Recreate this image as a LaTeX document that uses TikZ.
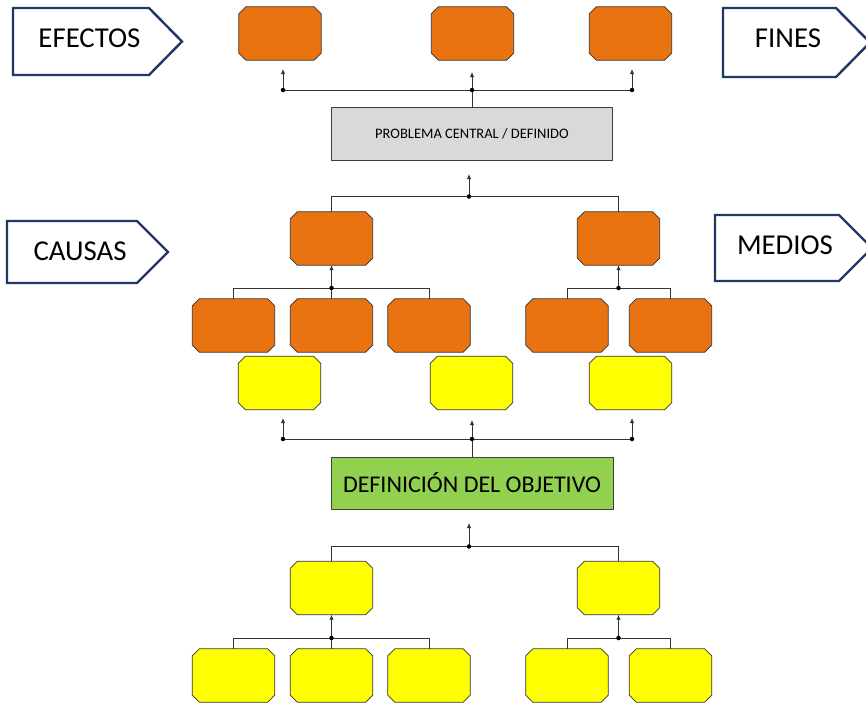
\documentclass[tikz,border=0pt]{standalone}
\usepackage{fontspec}
\setmainfont{Carlito}
\usetikzlibrary{arrows.meta}
\definecolor{orng}{HTML}{E97311}
\definecolor{yllw}{HTML}{FFFF00}
\definecolor{grn}{HTML}{92D050}
\definecolor{gry}{HTML}{D9D9D9}
\definecolor{navy}{HTML}{1F3864}
\tikzset{
  boxsz/.style={rectangle, inner sep=0pt, minimum width=82pt, minimum height=53pt},
  boxline/.style={draw=black!80, line width=0.8pt},
  wide/.style={rectangle, inner sep=0pt, draw=black!75, line width=0.9pt, minimum width=281pt, minimum height=53pt},
  conn/.style={draw=black!80, line width=0.9pt},
  arr/.style={conn, -{Latex[length=5pt,width=4.5pt]}},
  dot/.style={circle, fill=black, inner sep=0pt, minimum size=4.5pt},
  pent/.style={draw=navy, line width=2.4pt, fill=white, line join=miter},
  lbl/.style={inner sep=0pt, font=\fontsize{28.8}{32}\selectfont},
}
\newcommand\octb[4]{%
  \node[boxsz] (#1) at (#2,#3) {};
  \filldraw[boxline, fill=#4]
    ([xshift=7pt]#1.north west) -- ([xshift=-7pt]#1.north east)
    -- ([yshift=-7pt]#1.north east) -- ([yshift=7pt]#1.south east)
    -- ([xshift=-7pt]#1.south east) -- ([xshift=7pt]#1.south west)
    -- ([yshift=7pt]#1.south west) -- ([yshift=-7pt]#1.north west) -- cycle;
}
\begin{document}
\begin{tikzpicture}[x=1pt,y=-1pt]
\useasboundingbox (0,0) rectangle (866,702);
\fill[white] (0,0) rectangle (866,702);

% pentagon labels
\draw[pent] (13,8) -- (149,8) -- (182,41.5) -- (149,75) -- (13,75) -- cycle;
\node[lbl] (efectos) at (89.5,38.5) {EFECTOS};
\draw[pent] (723,8) -- (836,8) -- (870,42.5) -- (836,77) -- (723,77) -- cycle;
\node[lbl] (fines) at (788,38.5) {FINES};
\draw[pent] (7,221) -- (137,221) -- (168,252) -- (137,283) -- (7,283) -- cycle;
\node[lbl] (causas) at (80,251.5) {CAUSAS};
\draw[pent] (715,215) -- (839,215) -- (872,248) -- (839,281) -- (715,281) -- cycle;
\node[lbl] (medios) at (785,245) {MEDIOS};

% effects
\octb{E1}{280}{33.5}{orng}
\octb{E2}{472.5}{33.5}{orng}
\octb{E3}{630.5}{33.5}{orng}

% central problem
\node[wide, fill=gry, font=\fontsize{14.5}{17}\selectfont] (P) at (472,133.5) {PROBLEMA CENTRAL / DEFINIDO};

% causes
\octb{C1}{331.5}{238.5}{orng}
\octb{C2}{618.5}{238.5}{orng}
\octb{C11}{233.5}{325.5}{orng}
\octb{C12}{331.5}{325.5}{orng}
\octb{C13}{429}{325.5}{orng}
\octb{C21}{567}{325.5}{orng}
\octb{C22}{670.5}{325.5}{orng}

% yellow row
\octb{Y1}{279.5}{383}{yllw}
\octb{Y2}{471.5}{383}{yllw}
\octb{Y3}{630.5}{383}{yllw}

% objective
\node[wide, minimum width=282pt, minimum height=52pt, fill=grn, font=\fontsize{24}{28}\selectfont] (G) at (472,483) {DEFINICIÓN DEL OBJETIVO};

% means
\octb{B1}{331.5}{588}{yllw}
\octb{B2}{618.5}{588}{yllw}
\octb{B11}{233.5}{675.5}{yllw}
\octb{B12}{331.5}{675.5}{yllw}
\octb{B13}{429}{675.5}{yllw}
\octb{B21}{567}{675.5}{yllw}
\octb{B22}{670.5}{675.5}{yllw}

% coordinates
\coordinate (jtl) at (283,90);
\coordinate (jt) at (472,90);
\coordinate (jtr) at (632,90);
\coordinate (atl) at (283,69);
\coordinate (at) at (472,72);
\coordinate (atr) at (632,69);
\coordinate (jp) at (469,196.5);
\coordinate (ap) at (469,174);
\coordinate (j1) at (331.5,288);
\coordinate (j2) at (618.5,288);
\coordinate (jyl) at (283,439);
\coordinate (jy) at (472,439);
\coordinate (jyr) at (632,439);
\coordinate (ayl) at (283,418);
\coordinate (ay) at (472,420);
\coordinate (ayr) at (632,418);
\coordinate (jg) at (469,546.5);
\coordinate (ag) at (469,523);
\coordinate (j3) at (331.5,638);
\coordinate (j4) at (618.5,638);

% top connectors
\draw[conn] (P.north) -- (jt);
\draw[conn] (jtl) -- (jtr);
\draw[arr] (jtl) -- (atl);
\draw[arr] (jt) -- (at);
\draw[arr] (jtr) -- (atr);
\node[dot] (d1) at (jtl) {};
\node[dot] (d2) at (jt) {};
\node[dot] (d3) at (jtr) {};

% problem -> causes
\draw[conn] (C1.north) -- (C1.north |- jp) -- (C2.north |- jp) -- (C2.north);
\draw[arr] (jp) -- (ap);
\node[dot] (d4) at (jp) {};

% causes -> children
\draw[conn] (C11.north) -- (C11.north |- j1) -- (C13.north |- j1) -- (C13.north);
\draw[conn] (j1) -- (C12.north);
\draw[arr] (j1) -- (C1.south);
\node[dot] (d5) at (j1) {};
\draw[conn] (C21.north) -- (C21.north |- j2) -- (C22.north |- j2) -- (C22.north);
\draw[arr] (j2) -- (C2.south);
\node[dot] (d6) at (j2) {};

% yellow -> objective
\draw[conn] (G.north) -- (jy);
\draw[conn] (jyl) -- (jyr);
\draw[arr] (jyl) -- (ayl);
\draw[arr] (jy) -- (ay);
\draw[arr] (jyr) -- (ayr);
\node[dot] (d7) at (jyl) {};
\node[dot] (d8) at (jy) {};
\node[dot] (d9) at (jyr) {};

% objective -> means
\draw[conn] (B1.north) -- (B1.north |- jg) -- (B2.north |- jg) -- (B2.north);
\draw[arr] (jg) -- (ag);
\node[dot] (d10) at (jg) {};

% means -> children
\draw[conn] (B11.north) -- (B11.north |- j3) -- (B13.north |- j3) -- (B13.north);
\draw[conn] (j3) -- (B12.north);
\draw[arr] (j3) -- (B1.south);
\node[dot] (d11) at (j3) {};
\draw[conn] (B21.north) -- (B21.north |- j4) -- (B22.north |- j4) -- (B22.north);
\draw[arr] (j4) -- (B2.south);
\node[dot] (d12) at (j4) {};
\end{tikzpicture}
\end{document}
